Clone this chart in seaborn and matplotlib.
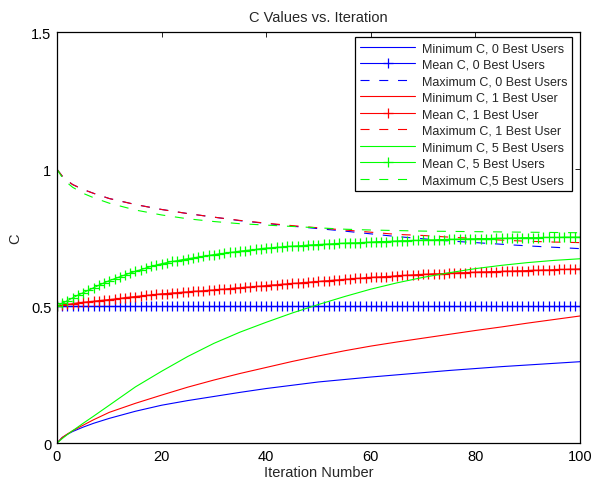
import matplotlib
matplotlib.use("Agg")
import matplotlib.pyplot as plt
import seaborn as sns
import numpy as np

# ---------------- data ----------------
iterations = list(range(0, 101))

# x positions where the min / max curves were read
x_lines = [0, 1, 2, 3, 5, 7, 10, 15, 20, 25, 30, 35, 40, 45, 50,
           55, 60, 65, 70, 75, 80, 85, 90, 95, 100]

min_c_0 = [0.000, 0.020, 0.032, 0.042, 0.058, 0.072, 0.090, 0.116, 0.138, 0.155, 0.170, 0.185, 0.199,
           0.211, 0.223, 0.232, 0.241, 0.249, 0.257, 0.265, 0.272, 0.279, 0.285, 0.291, 0.297]
min_c_1 = [0.000, 0.020, 0.033, 0.045, 0.065, 0.085, 0.112, 0.145, 0.175, 0.204, 0.230, 0.254, 0.276,
           0.298, 0.318, 0.337, 0.354, 0.369, 0.383, 0.397, 0.411, 0.424, 0.438, 0.451, 0.464]
min_c_5 = [0.000, 0.016, 0.031, 0.045, 0.072, 0.098, 0.138, 0.205, 0.262, 0.316, 0.364, 0.405, 0.441,
           0.475, 0.506, 0.535, 0.562, 0.585, 0.605, 0.622, 0.637, 0.649, 0.659, 0.667, 0.673]

max_c_0 = [1.000, 0.975, 0.958, 0.944, 0.926, 0.912, 0.893, 0.871, 0.853, 0.838, 0.825, 0.812, 0.802,
           0.792, 0.783, 0.774, 0.764, 0.754, 0.746, 0.738, 0.732, 0.726, 0.720, 0.715, 0.710]
max_c_1 = [1.000, 0.975, 0.958, 0.944, 0.926, 0.912, 0.893, 0.871, 0.853, 0.838, 0.825, 0.813, 0.803,
           0.794, 0.786, 0.778, 0.770, 0.762, 0.758, 0.752, 0.747, 0.741, 0.737, 0.734, 0.732]
max_c_5 = [1.000, 0.970, 0.950, 0.934, 0.912, 0.896, 0.876, 0.851, 0.833, 0.819, 0.809, 0.801, 0.796,
           0.791, 0.786, 0.781, 0.778, 0.776, 0.774, 0.773, 0.772, 0.771, 0.770, 0.769, 0.768]

mean_c_0 = [0.500, 0.500, 0.500, 0.500, 0.500, 0.500, 0.500, 0.500, 0.500, 0.500,
            0.500, 0.500, 0.500, 0.500, 0.500, 0.500, 0.500, 0.500, 0.500, 0.500,
            0.500, 0.500, 0.500, 0.500, 0.500, 0.500, 0.500, 0.500, 0.500, 0.500,
            0.500, 0.500, 0.500, 0.500, 0.500, 0.500, 0.500, 0.500, 0.500, 0.500,
            0.500, 0.500, 0.500, 0.500, 0.500, 0.500, 0.500, 0.500, 0.500, 0.500,
            0.500, 0.500, 0.500, 0.500, 0.500, 0.500, 0.500, 0.500, 0.500, 0.500,
            0.500, 0.500, 0.500, 0.500, 0.500, 0.500, 0.500, 0.500, 0.500, 0.500,
            0.500, 0.500, 0.500, 0.500, 0.500, 0.500, 0.500, 0.500, 0.500, 0.500,
            0.500, 0.500, 0.500, 0.500, 0.500, 0.500, 0.500, 0.500, 0.500, 0.500,
            0.500, 0.500, 0.500, 0.500, 0.500, 0.500, 0.500, 0.500, 0.500, 0.500,
            0.500]
mean_c_1 = [0.500, 0.503, 0.506, 0.509, 0.512, 0.514, 0.516, 0.518, 0.520, 0.522,
            0.524, 0.526, 0.528, 0.531, 0.533, 0.535, 0.537, 0.539, 0.541, 0.543,
            0.545, 0.546, 0.548, 0.549, 0.551, 0.552, 0.554, 0.555, 0.556, 0.558,
            0.559, 0.561, 0.562, 0.564, 0.566, 0.567, 0.569, 0.570, 0.572, 0.573,
            0.575, 0.577, 0.578, 0.580, 0.581, 0.583, 0.584, 0.586, 0.587, 0.589,
            0.590, 0.592, 0.593, 0.595, 0.596, 0.598, 0.599, 0.601, 0.602, 0.604,
            0.605, 0.606, 0.607, 0.608, 0.609, 0.611, 0.612, 0.613, 0.614, 0.615,
            0.616, 0.617, 0.618, 0.618, 0.619, 0.620, 0.621, 0.622, 0.622, 0.623,
            0.624, 0.625, 0.625, 0.626, 0.626, 0.627, 0.628, 0.628, 0.629, 0.629,
            0.630, 0.631, 0.631, 0.632, 0.632, 0.633, 0.634, 0.634, 0.635, 0.635,
            0.636]
mean_c_5 = [0.500, 0.510, 0.520, 0.530, 0.540, 0.549, 0.558, 0.567, 0.576, 0.585,
            0.593, 0.600, 0.607, 0.614, 0.621, 0.627, 0.633, 0.639, 0.645, 0.650,
            0.655, 0.659, 0.663, 0.666, 0.670, 0.673, 0.676, 0.679, 0.682, 0.685,
            0.688, 0.691, 0.693, 0.696, 0.698, 0.701, 0.703, 0.705, 0.707, 0.710,
            0.712, 0.713, 0.715, 0.716, 0.718, 0.719, 0.720, 0.721, 0.723, 0.724,
            0.725, 0.726, 0.727, 0.728, 0.729, 0.730, 0.731, 0.731, 0.732, 0.733,
            0.734, 0.735, 0.736, 0.736, 0.737, 0.738, 0.739, 0.739, 0.740, 0.740,
            0.741, 0.742, 0.742, 0.743, 0.743, 0.744, 0.744, 0.745, 0.745, 0.746,
            0.746, 0.746, 0.747, 0.747, 0.748, 0.748, 0.748, 0.749, 0.749, 0.750,
            0.750, 0.750, 0.750, 0.751, 0.751, 0.751, 0.751, 0.752, 0.752, 0.752,
            0.752]

labels = ["Minimum C, 0 Best Users", "Mean C, 0 Best Users", "Maximum C, 0 Best Users",
          "Minimum C, 1 Best User", "Mean C, 1 Best User", "Maximum C, 1 Best User",
          "Minimum C, 5 Best Users", "Mean C, 5 Best Users", "Maximum C,5 Best Users"]

x_ticks = [0, 20, 40, 60, 80, 100]
y_ticks = [0, 0.5, 1, 1.5]
y_tick_labels = ["0", "0.5", "1", "1.5"]

# ---------------- style ----------------
sns.set_style("white")
plt.rcParams["font.family"] = ["Liberation Sans", "DejaVu Sans"]
plt.rcParams["lines.scale_dashes"] = False

fig = plt.figure(figsize=(5.91, 4.89), dpi=100)
ax = fig.add_axes([0.0964, 0.092, 0.8850, 0.8398])

blue, red, green = (0, 0, 1), (1, 0, 0), (0, 1, 0)
lw = 0.8
series = [
    (x_lines, min_c_0, blue, "solid"), (iterations, mean_c_0, blue, "mean"), (x_lines, max_c_0, blue, "dash"),
    (x_lines, min_c_1, red, "solid"), (iterations, mean_c_1, red, "mean"), (x_lines, max_c_1, red, "dash"),
    (x_lines, min_c_5, green, "solid"), (iterations, mean_c_5, green, "mean"), (x_lines, max_c_5, green, "dash"),
]

handles = []
for (xs, ys, col, kind), lab in zip(series, labels):
    if kind == "mean":
        sns.lineplot(x=xs, y=ys, ax=ax, color=col, linewidth=lw, marker="+",
                     markersize=7.5, markeredgewidth=0.9, markeredgecolor=col, label=lab)
    else:
        sns.lineplot(x=xs, y=ys, ax=ax, color=col, linewidth=lw, label=lab)
    line = ax.lines[-1]
    if kind == "dash":
        line.set_dashes((6.5, 7))
    handles.append(line)

ax.set_xlim(0, 100)
ax.set_ylim(0, 1.5)
ax.set_xticks(x_ticks)
ax.set_xticklabels([str(t) for t in x_ticks])
ax.set_yticks(y_ticks)
ax.set_yticklabels(y_tick_labels)
ax.tick_params(direction="in", top=True, right=True, length=3.5, width=0.6,
               labelsize=10.5, colors="black", pad=4)
for s in ax.spines.values():
    s.set_visible(True)
    s.set_color("black")
    s.set_linewidth(0.9)

ax.set_xlabel("Iteration Number", fontsize=10.5, labelpad=2)
ax.set_ylabel("C", fontsize=10.5, labelpad=6)
ax.set_title("C Values vs. Iteration", fontsize=10.5, pad=8)

leg = ax.legend(handles, labels, loc="upper right", bbox_to_anchor=(0.9847, 0.9886),
                borderaxespad=0, fontsize=9, frameon=True, fancybox=False, shadow=False,
                framealpha=1, edgecolor="black", handlelength=4.4, handletextpad=0.5,
                labelspacing=0.36, borderpad=0.4, numpoints=1)
leg.get_frame().set_linewidth(0.9)

fig.savefig("out.png", dpi=100)
